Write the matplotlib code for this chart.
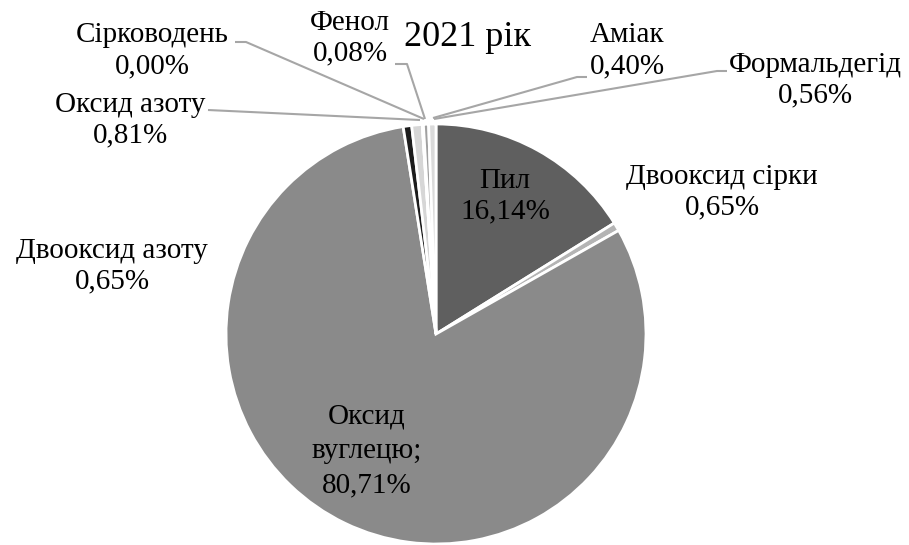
import matplotlib
matplotlib.use("Agg")
import matplotlib.pyplot as plt

plt.rcParams['font.family'] = ['Liberation Serif', 'DejaVu Serif']

# Data
names = ["Пил", "Двооксид сірки", "Оксид вуглецю", "Двооксид азоту", "Оксид азоту",
         "Сірководень", "Фенол", "Аміак", "Формальдегід"]
values = [16.14, 0.65, 80.71, 0.65, 0.81, 0.00, 0.08, 0.40, 0.56]
colors = ["#5f5f5f", "#b4b4b4", "#8a8a8a", "#1c1c1c", "#d6d6d6",
          "#a6a6a6", "#e6e6e6", "#a0a0a0", "#dadada"]
title = "2021 рік"

W, H = 909, 545
fig = plt.figure(figsize=(W / 100, H / 100), dpi=100)
ax = fig.add_axes([0, 0, 1, 1])

def Y(y):
    return H - y

explode = [0.035, 0, 0, 0, 0, 0, 0, 0, 0]
ax.pie(values, colors=colors, startangle=90, counterclock=False,
       center=(436, Y(334)), radius=210, explode=explode,
       wedgeprops=dict(edgecolor="white", linewidth=2))
ax.set_xlim(0, W)
ax.set_ylim(0, H)
ax.set_aspect('auto')
ax.axis('off')

def fmt(v):
    return f"{v:.2f}".replace(".", ",") + "%"

fs = 21
lc = "#a6a6a6"

# label positions (pixel coords of text centre)
pos = {
    "Пил": (505, 196),
    "Двооксид сірки": (722, 192),
    "Оксид вуглецю": (367, 451),
    "Двооксид азоту": (112, 266),
    "Оксид азоту": (130, 120),
    "Сірководень": (152, 51),
    "Фенол": (350, 38),
    "Аміак": (627, 51),
    "Формальдегід": (815, 80),
}
for n, v in zip(names, values):
    x, y = pos[n]
    if n == "Оксид вуглецю":
        txt = "Оксид\nвуглецю;\n" + fmt(v)
        ls = 1.42
    else:
        txt = n + "\n" + fmt(v)
        ls = 1.25
    ax.text(x, Y(y), txt, ha="center", va="center", fontsize=fs,
            linespacing=ls, color="black")

# leader lines
leaders = [
    [(235, 42), (246, 42), (424, 119)],
    [(395, 64), (407, 64), (425, 119)],
    [(208, 110), (420, 120)],
    [(587, 77), (577, 77), (433, 118)],
    [(727, 71), (717, 71), (434, 119)],
]
for pts in leaders:
    xs = [p[0] for p in pts]
    ys = [Y(p[1]) for p in pts]
    ax.plot(xs, ys, color=lc, lw=1.5, solid_capstyle="butt")

ax.text(468, Y(38), title, ha="center", va="center", fontsize=26)

fig.savefig("out.png", dpi=100)
